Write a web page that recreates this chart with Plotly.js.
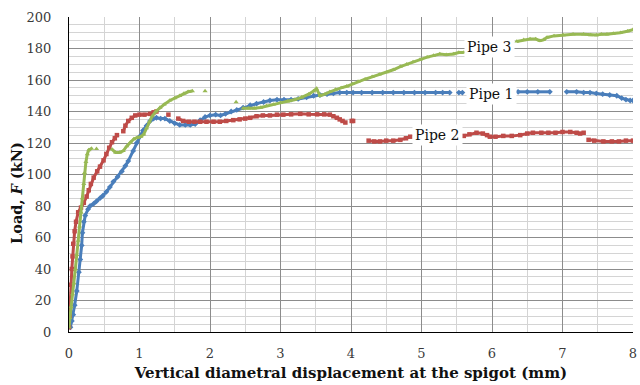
<!DOCTYPE html>
<html>
<head>
<meta charset="utf-8">
<script src="https://cdn.plot.ly/plotly-3.0.1.min.js"></script>
<style>
  html, body { margin: 0; padding: 0; background: #fff; }
  #chart { width: 640px; height: 385px; }
</style>
</head>
<body>
<div id="chart"></div>
<script>
// Load vs. vertical diametral displacement at the spigot, three pipe tests.
// null entries break the trace where the record has gaps.

const pipe1X = [0.02,0.04,0.06,0.08,0.11,0.14,0.16,0.18,0.19,0.21,0.23,0.27,0.30,0.35,0.39,0.44,0.48,0.53,0.58,0.63,0.69,0.75,0.80,0.84,0.91,0.96,1.00,1.05,1.10,1.15,1.20,1.24,1.30,1.36,1.43,1.50,1.57,1.65,1.72,1.79,1.86,1.93,2.00,2.08,2.15,2.22,2.30,2.38,2.47,2.57,2.66,2.76,2.85,2.95,3.05,3.15,3.25,3.37,3.47,3.56,3.66,3.75,3.84,3.94,4.03,4.15,4.30,4.45,4.60,4.75,4.90,5.05,5.20,5.30,5.40,null,5.53,5.58,null,6.37,6.50,6.65,6.82,null,7.06,7.20,7.30,7.39,7.48,7.57,7.67,7.77,7.84,7.90,7.96,8.00];
const pipe1Y = [3,7,11,17,26,38,46,55,63,70,74,78,80,81.5,83,85,86.5,89,92,95.5,98.5,102,105.5,108.5,115,120,124,128,131,134,135.5,136,135.5,135.5,134,132.5,131.5,131.5,131.5,132,134.5,136.5,137.5,138,137.5,138.5,140,141,142.5,144,145,146,147,147.5,147.5,147.5,148,149,150,150.5,151,151.5,152,152,152,152,152,152,152,152,152,152,152,152,152,null,152,152,null,152.5,152.5,152.5,152.5,null,152.5,152.5,152,152,151.5,151,150.5,150,148.5,147.5,147,147];

const pipe2X = [0.00,0.01,0.02,0.03,0.04,0.05,0.06,0.08,0.10,0.13,0.17,0.21,0.25,0.28,0.31,0.35,0.40,0.44,0.49,0.53,0.57,0.61,0.65,0.68,null,0.77,0.80,0.84,0.89,0.94,1.00,1.07,1.15,1.20,1.24,null,1.41,null,1.55,1.62,1.70,1.78,1.86,1.95,2.05,2.14,2.23,2.33,2.42,2.50,2.57,2.66,2.75,2.85,2.95,3.04,3.15,3.28,3.40,3.52,3.62,3.70,3.75,3.80,3.84,3.88,3.92,null,4.01,4.03,null,4.25,4.33,4.41,4.50,4.60,4.70,4.78,4.84,null,5.60,5.68,5.78,5.87,5.93,5.97,6.05,6.16,6.28,6.40,6.50,6.58,6.70,6.80,6.90,7.00,7.11,7.20,7.25,null,7.30,null,7.37,7.45,7.58,7.70,7.80,7.90,8.00];
const pipe2Y = [3,10,20,30,40,48,56,64,70,76,79,82,86,90,94,98,102,105,109,113,117,120.5,123,125,null,127.5,131,134,136,137.5,138,138,138.5,139.5,140,null,138,null,135.5,134,133.5,133.5,133.5,133.5,133.5,133.5,134,134.5,135,135.5,136,137,137.5,137.5,138,138,138.2,138.5,138.2,138.2,138.2,138,137,136,135,134,133,null,134,134,null,121.5,121,121,121.5,121.5,122,123,124,null,124.5,125.5,126.5,126,125,124,124,124.5,124.5,125,126,126.5,126.5,126.5,126.5,127,127,126.5,126,null,126.5,null,122,121.5,121,121,121,121.5,121.5];

const pipe3X = [0.00,0.01,0.03,0.05,0.07,0.09,0.11,0.13,0.15,0.17,0.19,0.21,0.22,0.24,0.26,0.28,0.32,null,0.39,null,0.61,0.66,0.72,0.77,0.82,0.87,0.92,0.97,1.02,1.06,1.10,1.14,1.18,1.23,1.29,1.35,1.43,1.50,1.57,1.63,1.69,1.75,null,1.93,null,2.37,null,2.47,2.55,2.63,2.72,2.80,2.90,3.00,3.10,3.20,3.30,3.40,3.47,3.51,3.56,3.63,3.70,3.78,3.86,3.94,4.02,4.10,4.20,4.30,4.40,4.51,4.60,4.70,4.79,4.88,4.98,5.08,5.17,5.26,5.35,5.45,5.53,5.60,null,6.35,6.45,6.54,6.62,6.68,6.73,6.78,6.88,7.01,7.15,7.30,7.40,7.48,7.55,7.63,7.72,7.82,7.92,8.00];
const pipe3Y = [3,9,16,24,31,40,49,58,67,76,85,94,101,108,113,115.5,116.5,null,116.3,null,116,114,114,115,118,120.5,122.5,123.5,124,125.5,129.5,133.5,137,140,142.5,144.5,147,148.5,150,151.5,152.5,153,null,153,null,146,null,142,142,142,142.5,143.5,144.5,145.5,146.5,147.5,149,151,153,154.5,150,151,152.5,154,155,156,157.5,159,160.5,162,163.5,165,166.5,168.5,170,171.5,173,174.5,175.5,176.5,176,176.5,177.5,177.5,null,184.5,185.5,186,186,185,185.5,187,188,188.5,189,189,188.5,188.5,189,189,189.5,190,191,192];

const seriesNames = ['Pipe 1', 'Pipe 2', 'Pipe 3'];
const labelX = [5.99, 5.22, 5.97];
const labelY = [151, 125, 181];

const colors = ['#4a7ebb', '#be4b48', '#98b954'];
const symbols = ['diamond', 'square', 'triangle-up'];
const xs = [pipe1X, pipe2X, pipe3X];
const ys = [pipe1Y, pipe2Y, pipe3Y];

const serif = 'DejaVu Serif, Liberation Serif, serif';

const traces = xs.map((x, i) => ({
  type: 'scatter',
  mode: 'lines+markers',
  name: seriesNames[i],
  x: x,
  y: ys[i],
  connectgaps: false,
  line: { color: colors[i], width: 3 },
  marker: { color: colors[i], symbol: symbols[i], size: 4.5 },
  hoverinfo: 'x+y+name'
}));

const annotations = seriesNames.map((t, i) => ({
  x: labelX[i], y: labelY[i], xref: 'x', yref: 'y',
  text: t, showarrow: false,
  bgcolor: '#ffffff', borderpad: 2,
  font: { family: serif, size: 14, color: '#111' }
}));

// vertical axis title, placed as a rotated annotation
annotations.push({
  xref: 'paper', yref: 'paper',
  x: -0.093, y: 0.44, xanchor: 'center', yanchor: 'middle',
  textangle: -90, showarrow: false,
  text: '<b>Load, <i>F</i> (kN)</b>',
  font: { family: serif, size: 14.5, color: '#111' }
});

const layout = {
  width: 640, height: 385,
  margin: { l: 69, r: 7, t: 17, b: 53 },
  paper_bgcolor: '#fff', plot_bgcolor: '#fff',
  showlegend: false,
  font: { family: serif, size: 13, color: '#3a3a3a' },
  xaxis: {
    range: [0, 8], dtick: 1, tick0: 0,
    showgrid: true, gridcolor: '#8c8c8c', gridwidth: 1,
    minor: { dtick: 0.5, showgrid: true, gridcolor: '#d4d4d4', gridwidth: 1 },
    zeroline: false, showline: true, linecolor: '#000', linewidth: 1,
    ticks: '', ticklabelstandoff: 9,
    tickfont: { family: serif, size: 13, color: '#3a3a3a' },
    title: {
      text: '<b>Vertical diametral displacement at the spigot (mm)</b>',
      font: { family: serif, size: 15, color: '#111' },
      standoff: 7
    }
  },
  yaxis: {
    range: [0, 200], dtick: 20, tick0: 0,
    showgrid: true, gridcolor: '#8c8c8c', gridwidth: 1,
    minor: { dtick: 5, showgrid: true, gridcolor: '#d4d4d4', gridwidth: 1 },
    zeroline: false, showline: true, linecolor: '#000', linewidth: 1,
    ticks: '', ticklabelstandoff: 14,
    tickfont: { family: serif, size: 13, color: '#3a3a3a' }
  },
  annotations: annotations
};

Plotly.newPlot('chart', traces, layout, { staticPlot: true, displayModeBar: false });
</script>
</body>
</html>
